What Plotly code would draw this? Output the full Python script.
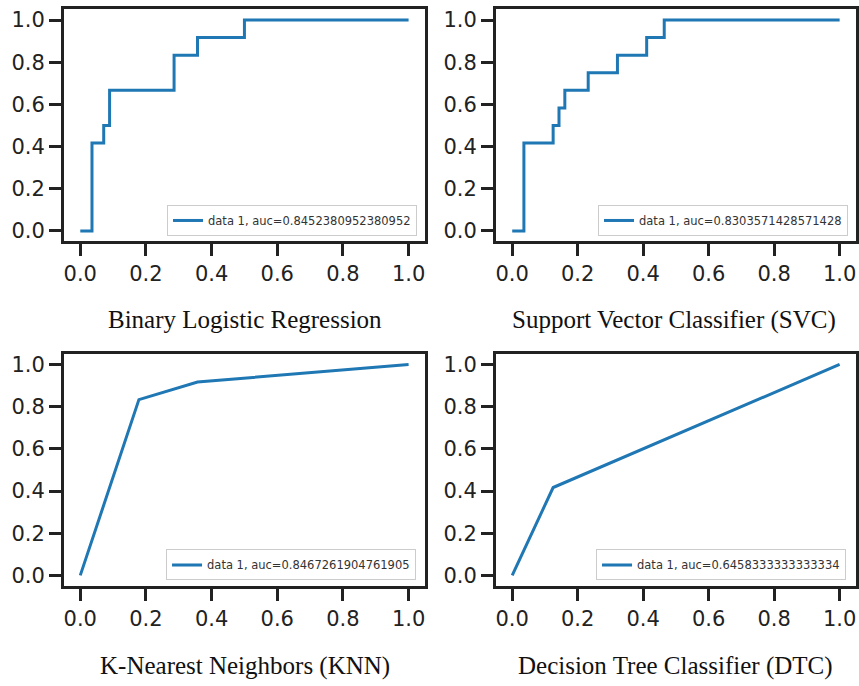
import plotly.graph_objects as go

# ---- data ----
titles = ["Binary Logistic Regression", "Support Vector Classifier (SVC)",
          "K-Nearest Neighbors (KNN)", "Decision Tree Classifier (DTC)"]
labels = ["data 1, auc=0.8452380952380952", "data 1, auc=0.8303571428571428",
          "data 1, auc=0.8467261904761905", "data 1, auc=0.6458333333333334"]

lr_fpr = [0.0, 0.0357, 0.0357, 0.0714, 0.0714, 0.0893, 0.0893, 0.2857, 0.2857, 0.3571, 0.3571, 0.5, 0.5, 1.0]
lr_tpr = [0.0, 0.0, 0.4167, 0.4167, 0.5, 0.5, 0.6667, 0.6667, 0.8333, 0.8333, 0.9167, 0.9167, 1.0, 1.0]

svc_fpr = [0.0, 0.0357, 0.0357, 0.125, 0.125, 0.1429, 0.1429, 0.1607, 0.1607, 0.2321, 0.2321,
           0.3214, 0.3214, 0.4107, 0.4107, 0.4643, 0.4643, 1.0]
svc_tpr = [0.0, 0.0, 0.4167, 0.4167, 0.5, 0.5, 0.5833, 0.5833, 0.6667, 0.6667, 0.75,
           0.75, 0.8333, 0.8333, 0.9167, 0.9167, 1.0, 1.0]

knn_fpr = [0.0, 0.1786, 0.3571, 1.0]
knn_tpr = [0.0, 0.8333, 0.9167, 1.0]

dtc_fpr = [0.0, 0.125, 1.0]
dtc_tpr = [0.0, 0.4167, 1.0]

tick_vals = [0.0, 0.2, 0.4, 0.6, 0.8, 1.0]
tick_text = ["0.0", "0.2", "0.4", "0.6", "0.8", "1.0"]

series = [(lr_fpr, lr_tpr), (svc_fpr, svc_tpr), (knn_fpr, knn_tpr), (dtc_fpr, dtc_tpr)]

# ---- layout geometry (paper fractions) ----
W, H = 859, 686
col_x = [(64 / W, 426 / W), (497 / W, 858 / W)]
row_y = [(1 - 241.5 / H, 1 - 8.5 / H), (1 - 587.5 / H, 1 - 354.5 / H)]
title_pos = [(246 / W, 1 - 320 / H), (676 / W, 1 - 320 / H),
             (246 / W, 1 - 668 / H), (677 / W, 1 - 668 / H)]
legend_pos = [(418 / W, 1 - 236 / H), (850 / W, 1 - 236 / H),
              (417 / W, 1 - 582 / H), (848 / W, 1 - 582 / H)]

BLUE = "#1f77b4"
INK = "#222222"

fig = go.Figure()
layout = dict(width=W, height=H, margin=dict(l=0, r=0, t=0, b=0),
              paper_bgcolor="white", plot_bgcolor="white",
              font=dict(family="DejaVu Sans", color=INK), annotations=[])

for i, ((xs, ys), lab) in enumerate(zip(series, labels)):
    r, c = divmod(i, 2)
    n = "" if i == 0 else str(i + 1)
    leg = "legend" if i == 0 else f"legend{i + 1}"
    fig.add_trace(go.Scatter(x=xs, y=ys, mode="lines", name=lab,
                             line=dict(color=BLUE, width=3),
                             xaxis="x" + n, yaxis="y" + n, legend=leg,
                             showlegend=True))
    axcommon = dict(range=[-0.05, 1.05], tickvals=tick_vals, ticktext=tick_text,
                    showgrid=False, zeroline=False, showline=True, mirror=True,
                    linecolor=INK, linewidth=2.5, ticks="outside", ticklen=12,
                    tickwidth=2.5, tickcolor=INK,
                    tickfont=dict(family="DejaVu Sans", size=21, color=INK),
                    fixedrange=True)
    layout["xaxis" + n] = dict(axcommon, domain=list(col_x[c]),
                               anchor="y" + n)
    layout["yaxis" + n] = dict(axcommon, domain=list(row_y[r]),
                               anchor="x" + n)
    lx, ly = legend_pos[i]
    layout[leg] = dict(x=lx, y=ly, xanchor="right", yanchor="bottom",
                       xref="paper", yref="paper",
                       bgcolor="rgba(255,255,255,0.85)", bordercolor="#cccccc",
                       borderwidth=1, font=dict(family="DejaVu Sans", size=11.5, color="#333333"),
                       itemwidth=30, tracegroupgap=0)
    tx, ty = title_pos[i]
    layout["annotations"].append(dict(text=titles[i], x=tx, y=ty, xref="paper", yref="paper",
                                      xanchor="center", yanchor="middle", showarrow=False,
                                      font=dict(family="Liberation Serif", size=25, color="#111111")))

fig.update_layout(**layout)
fig.write_html("out.html")
